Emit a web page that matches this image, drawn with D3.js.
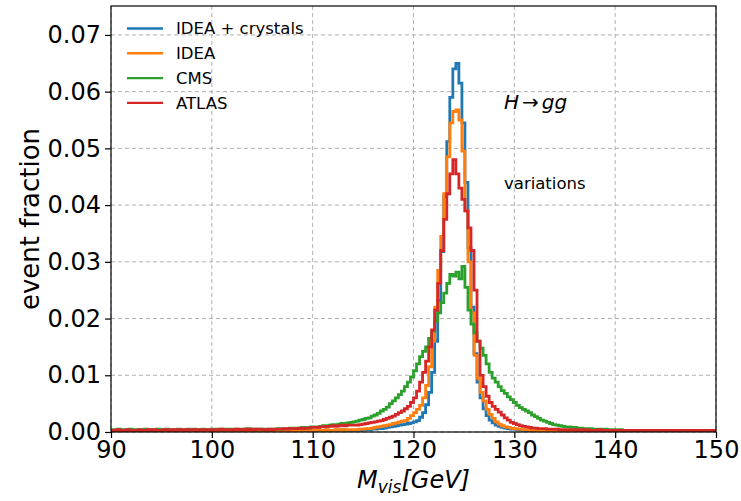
<!DOCTYPE html>
<html><head><meta charset="utf-8">
<script src="https://cdn.jsdelivr.net/npm/d3@7"></script>
<style>body{margin:0;background:#fff}svg{display:block}</style>
</head><body>
<svg id="c" width="741" height="501"></svg>
<script>
// ---------- data ----------
const binStart = 90, binWidth = 0.3;   // 200 bins, 90..150 GeV
const UNIT = 1e-4;                       // values below are in units of 1e-4 (event fraction)
const seriesNames = ["IDEA + crystals", "IDEA", "CMS", "ATLAS"];
const seriesColors = ["#1f77b4", "#ff7f0e", "#2ca02c", "#d62728"];
const xTickLabels = [90, 100, 110, 120, 130, 140, 150];
const yTickLabels = [0.00, 0.01, 0.02, 0.03, 0.04, 0.05, 0.06, 0.07];

const ideaCrystals = [
1,1,0,1,1,1,0,1,1,1, 1,0,1,1,1,1,1,0,1,1, 1,1,1,1,0,1,1,1,1,1, 1,1,1,1,1,2,1,1,1,1,
1,1,2,1,1,1,2,1,1,2, 1,2,1,2,2,1,2,2,2,2, 2,2,3,2,2,3,2,3,3,3, 3,2,3,3,3,3,4,3,3,3,
3,3,3,4,4,4,5,5,6,6, 7,8,9,10,11,12,13,14,15,16, 18,20,26,34,48,70,105,160,232,318,
415,512,590,640,650,615,545,440,325,220, 138,88,60,41,29,21,16,12,10,8, 7,6,5,5,4,4,3,3,2,2,
2,2,2,1,2,1,1,2,1,1, 1,1,1,1,0,1,1,1,1,1, 1,1,0,1,1,1,1,1,0,1, 1,1,1,1,1,0,1,1,1,1,
1,0,1,1,1,1,1,1,0,1, 1,1,1,0,1,1,1,1,1,1];
const idea = [
1,1,1,2,1,1,1,1,2,1, 1,1,2,1,1,1,1,2,1,1, 2,1,1,1,2,1,1,2,1,1, 2,1,2,1,1,2,2,1,2,2,
2,1,2,2,2,2,1,2,2,2, 2,2,3,2,2,3,2,3,2,3, 3,2,3,3,3,3,3,3,4,3, 3,4,3,3,4,4,3,4,4,4,
4,4,5,5,6,6,7,8,9,10, 11,12,13,15,16,18,19,20,24,29, 34,40,47,60,82,115,160,220,285,345,
420,485,545,565,568,550,495,390,300,210, 135,95,70,55,40,31,24,18,14,11, 9,8,7,6,5,5,4,4,3,3,
3,2,2,2,2,2,1,2,1,2, 1,1,1,2,1,1,1,1,1,1, 1,1,1,1,1,1,0,1,1,1, 1,1,1,1,1,1,1,1,0,1,
1,1,1,1,1,1,1,1,1,1, 1,0,1,1,1,1,1,1,1,1];
const cms = [
4,3,5,4,3,4,5,4,4,3, 4,5,4,4,3,5,4,4,5,4, 4,4,5,4,4,5,4,5,4,4, 5,4,4,5,5,4,5,4,5,5,
4,5,5,4,5,6,5,4,5,5, 4,5,4,5,5,6,5,6,6,7, 6,7,7,8,7,8,9,9,9,10, 11,10,12,13,12,14,15,14,16,17,
18,19,21,22,24,25,28,30,33,37, 40,44,50,55,60,66,72,80,88,97, 108,120,133,142,150,165,178,195,210,228,
245,262,278,275,282,270,292,255,215,190, 175,160,148,135,120,105,95,88,80,73, 68,62,57,52,47,43,40,37,34,30,
27,24,21,19,17,15,13,12,11,10, 9,9,8,8,7,7,6,6,6,5, 5,5,4,5,4,4,4,3,4,3, 3,3,3,2,3,2,3,3,2,3,
2,3,2,2,3,2,2,3,2,2, 2,2,3,2,2,2,2,2,3,2];
const atlas = [
3,3,4,3,3,4,3,3,3,4, 3,3,4,3,4,3,3,4,4,3, 4,3,4,4,3,4,4,4,3,4, 4,4,4,3,4,4,5,4,4,4,
4,5,4,4,5,4,5,4,5,5, 4,4,5,4,5,5,5,6,5,6, 6,6,7,6,7,7,8,8,8,9, 9,10,10,11,10,11,12,11,12,12,
12,12,13,14,15,16,17,18,19,20, 22,24,26,28,31,34,37,41,45,52, 60,72,88,105,125,150,180,215,262,320,
375,420,455,480,455,430,410,390,360,320, 250,160,100,80,63,52,45,40,35,30, 25,21,17,15,13,11,10,9,8,7,
7,6,6,6,5,5,5,5,4,4, 4,4,4,4,3,4,3,4,3,3, 3,4,3,3,3,3,3,3,3,3, 3,3,3,2,3,3,3,3,2,3,
3,3,2,3,3,3,2,3,3,3, 3,2,3,3,2,3,3,3,3,3];
const seriesValues = [ideaCrystals, idea, cms, atlas];

// ---------- chart ----------
const svg = d3.select("#c");
const M = {l: 111, r: 716, t: 6, b: 432};
const x = d3.scaleLinear().domain([90, 150]).range([M.l, M.r]);
const y = d3.scaleLinear().domain([0, 0.0751]).range([M.b, M.t]);
const FONT = "'DejaVu Sans', sans-serif";

svg.append("rect").attr("width", 741).attr("height", 501).attr("fill", "#fff");

// grid
const grid = svg.append("g").attr("stroke", "#b0b0b0").attr("stroke-width", 1).attr("stroke-dasharray", "4,3");
grid.selectAll(".gx").data(xTickLabels).join("line")
  .attr("x1", d => x(d)).attr("x2", d => x(d)).attr("y1", M.t).attr("y2", M.b);
grid.selectAll(".gy").data(yTickLabels).join("line")
  .attr("y1", d => y(d)).attr("y2", d => y(d)).attr("x1", M.l).attr("x2", M.r);

// clip
svg.append("clipPath").attr("id", "clip").append("rect")
  .attr("x", M.l).attr("y", M.t - 2).attr("width", M.r - M.l).attr("height", M.b - M.t + 2);

const line = d3.line().x(d => x(d[0])).y(d => y(d[1]));
function stepPoints(vals) {
  const pts = [[binStart, 0]];
  vals.forEach((v, i) => {
    const x0 = binStart + i * binWidth;
    pts.push([x0, v * UNIT], [x0 + binWidth, v * UNIT]);
  });
  pts.push([binStart + vals.length * binWidth, 0]);
  return pts;
}
const plot = svg.append("g").attr("clip-path", "url(#clip)");
seriesValues.forEach((vals, k) => {
  plot.append("path").attr("d", line(stepPoints(vals)))
    .attr("fill", "none").attr("stroke", seriesColors[k])
    .attr("stroke-width", 2.8).attr("stroke-linejoin", "miter");
});

// axes
const xAxis = d3.axisBottom(x).tickValues(xTickLabels).tickSize(6).tickPadding(3).tickFormat(d3.format("d"));
const yAxis = d3.axisLeft(y).tickValues(yTickLabels).tickSize(6).tickPadding(4).tickFormat(d3.format(".2f"));
const gx = svg.append("g").attr("transform", `translate(0,${M.b})`).call(xAxis);
const gy = svg.append("g").attr("transform", `translate(${M.l},0)`).call(yAxis);
[gx, gy].forEach(g => {
  g.select(".domain").remove();
  g.selectAll("line").attr("stroke", "#000").attr("stroke-width", 1.2);
  g.selectAll("text").attr("fill", "#000").style("font-family", FONT).style("font-size", "24px");
});

// frame
svg.append("rect").attr("x", M.l).attr("y", M.t).attr("width", M.r - M.l).attr("height", M.b - M.t)
  .attr("fill", "none").attr("stroke", "#000").attr("stroke-width", 1.2);

// axis labels
svg.append("text").attr("transform", `translate(30,${(M.t + M.b) / 2}) rotate(-90)`)
  .attr("text-anchor", "middle").attr("dy", "0.35em")
  .style("font-family", FONT).style("font-size", "26px").text("event fraction");

const xl = svg.append("text").attr("x", x(120)).attr("y", 488).attr("text-anchor", "middle")
  .style("font-family", FONT).style("font-size", "24px").style("font-style", "italic");
xl.append("tspan").text("M");
xl.append("tspan").attr("dy", 5).style("font-size", "17px").text("vis");
xl.append("tspan").attr("dy", -5).text("[GeV]");

// legend
const lg = svg.append("g");
seriesNames.forEach((name, k) => {
  const yy = 28.5 + k * 24.8;
  lg.append("line").attr("x1", 127).attr("x2", 163).attr("y1", yy).attr("y2", yy)
    .attr("stroke", seriesColors[k]).attr("stroke-width", 2.4);
  lg.append("text").attr("x", 176).attr("y", yy).attr("dy", "0.36em")
    .style("font-family", FONT).style("font-size", "16.5px").text(name);
});

// annotations
const h = svg.append("text").attr("x", 504).attr("y", 109).style("font-family", FONT).style("font-size", "20px");
h.append("tspan").style("font-style", "italic").text("H");
h.append("tspan").attr("dx", 3).text("\u2192");
h.append("tspan").attr("dx", 3).style("font-style", "italic").text("gg");
svg.append("text").attr("x", 504).attr("y", 189).style("font-family", FONT).style("font-size", "16.5px").text("variations");
</script>
</body></html>
